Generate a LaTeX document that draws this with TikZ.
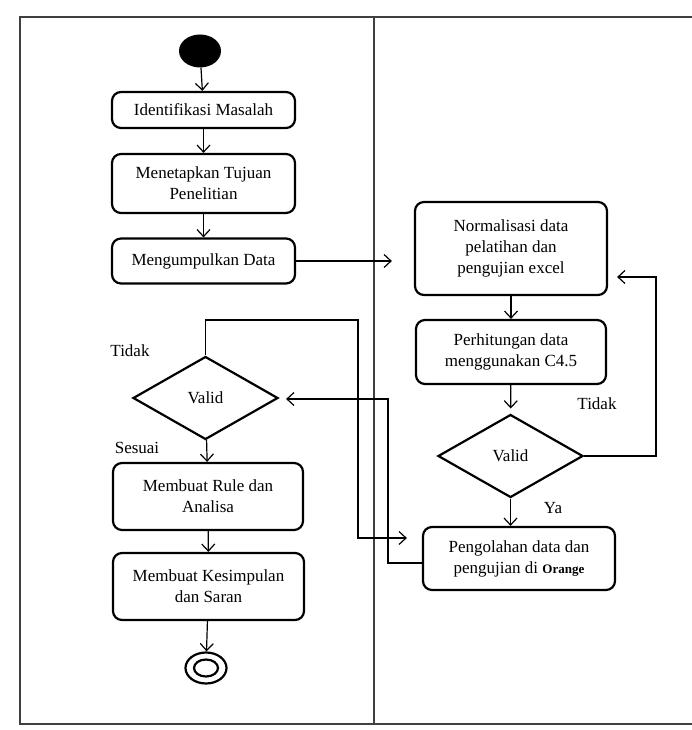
\documentclass[tikz,border=0pt]{standalone}
\usepackage{fontspec}
\setmainfont{Liberation Serif}
\usetikzlibrary{arrows.meta,shapes.geometric}

\tikzset{
  act/.style={draw, line width=2.2pt, rounded corners=9pt, align=center, inner sep=0pt,
    font=\fontsize{17}{21}\selectfont},
  dec/.style={draw, diamond, line width=2.2pt, inner sep=0pt, minimum width=145pt, minimum height=83pt,
    font=\fontsize{17}{21}\selectfont},
  lbl/.style={font=\fontsize{17}{21}\selectfont},
  flow/.style={->, line width=1.2pt},
  frame/.style={line width=2pt, black!75}
}

\begin{document}
\begin{tikzpicture}[x=1pt, y=-1pt, >={Straight Barb[length=7pt,width=13pt]}]

\useasboundingbox (0,0) rectangle (692,730);

% Frame and swimlane divider
\draw[frame] (692,17) -- (20,17) -- (20,724) -- (692,724);
\draw[frame] (374,17) -- (374,724);

% Left lane
\node[ellipse, fill=black, minimum width=42pt, minimum height=33pt, inner sep=0pt] (start) at (200,51) {};
\node[act, minimum width=183pt, minimum height=36pt] (idm) at (203.5,110) {Identifikasi Masalah};
\node[act, minimum width=183pt, minimum height=59pt] (tujuan) at (203.5,183.5) {Menetapkan Tujuan\\Penelitian};
\node[act, minimum width=183pt, minimum height=45pt] (kumpul) at (203.5,261) {Mengumpulkan Data};
\node[dec] (valid1) at (205.5,398) {Valid};
\node[act, minimum width=190pt, minimum height=67pt] (rule) at (208,496.5) {Membuat Rule dan\\Analisa};
\node[act, minimum width=191pt, minimum height=67pt] (simpul) at (208.5,586.5) {Membuat Kesimpulan\\dan Saran};
\node[ellipse, draw, line width=2.2pt, minimum width=41pt, minimum height=31pt, inner sep=0pt] (end) at (206,668) {};
\draw[line width=2.2pt] (end) ellipse [x radius=12pt, y radius=8.5pt];

% Right lane
\node[act, minimum width=192pt, minimum height=93pt] (norm) at (511,248.5) {Normalisasi data\\pelatihan dan\\pengujian excel};
\node[act, minimum width=190pt, minimum height=64pt] (hitung) at (511,352) {Perhitungan data\\menggunakan C4.5};
\node[dec] (valid2) at (510.5,456) {Valid};
\node[act, minimum width=192pt, minimum height=63pt] (olah) at (519,558.5) {Pengolahan data dan\\pengujian di {\fontsize{13}{15}\selectfont\bfseries Orange}};

% Labels
\node[lbl] (tidak1) at (130,351) {Tidak};
\node[lbl] (sesuai) at (137,448) {Sesuai};
\node[lbl] (tidak2) at (597,404) {Tidak};
\node[lbl] (ya) at (553,508) {Ya};

% Bend points
\coordinate (loopR) at (656,277);
\coordinate (tidakT) at (358,320);
\coordinate (tidakB) at (358,538);
\coordinate (balikB) at (388,563);
\coordinate (balikT) at (388,399);

% Flow
\draw[flow] (start) -- (idm);
\draw[flow] (idm) -- (tujuan);
\draw[flow] (tujuan) -- (kumpul);
\draw[flow, shorten >=22pt] (kumpul.east) -- (kumpul.east -| norm.west);
\draw[flow] (norm) -- (hitung);
\draw[flow, shorten >=5pt] (hitung) -- (valid2);
\draw[flow, shorten >=9pt] (valid2.east) -| (loopR) -- (loopR -| norm.east);
\draw[flow] (valid2.south) -- (valid2.south |- olah.north);
\draw[flow, shorten >=15pt] (valid1.north) |- (tidakT) -- (tidakB) -- (tidakB -| olah.west);
\draw[flow, shorten >=7pt] (balikB -| olah.west) -- (balikB) -- (balikT) -- (balikT -| valid1.east);
\draw[flow] (valid1) -- (rule);
\draw[flow] (rule) -- (simpul);
\draw[flow] (simpul) -- (end);

\end{tikzpicture}
\end{document}
